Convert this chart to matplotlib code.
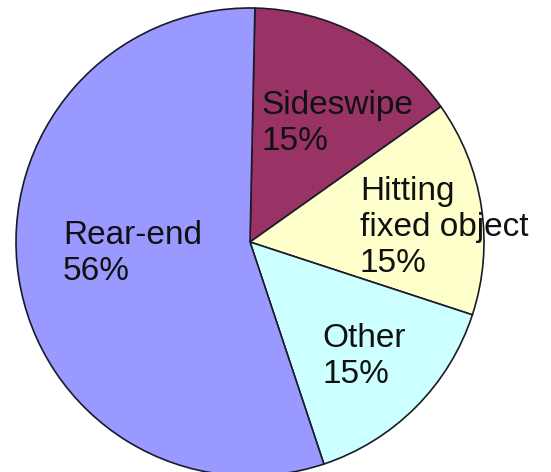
import matplotlib.pyplot as plt

# Types de collision (ordre horaire depuis le haut)
categories = ['Sideswipe', 'Hitting\nfixed object', 'Other', 'Rear-end']
shares = [15, 15, 15, 56]
pct_labels = ['15%', '15%', '15%', '56%']
colors = ['#993366', '#FFFFCC', '#CCFFFF', '#9999FF']

# position du texte (coin gauche, ligne de base de la dernière ligne), en rayons
label_pos = [(0.05, 0.393), (0.47, -0.128), (0.31, -0.603), (-0.80, -0.162)]

fig = plt.figure(figsize=(5.51, 4.72), dpi=100)
ax = fig.add_axes([16 / 551, -4 / 472, 468 / 551, 468 / 472])

wedges, _ = ax.pie(shares, colors=colors, startangle=88.8, counterclock=False,
                   radius=1, wedgeprops=dict(edgecolor='#1a1a2a', linewidth=1.2))
for w in wedges:
    w.set_clip_on(False)

for cat, pct, (x, y) in zip(categories, pct_labels, label_pos):
    ax.text(x, y, cat + '\n' + pct, ha='left', va='baseline',
            fontsize=24, family='Liberation Sans', color='#111111',
            linespacing=1.2)

ax.set_xlim(-1, 1)
ax.set_ylim(-1, 1)
ax.set_aspect('equal')
ax.axis('off')

fig.savefig('out.png', dpi=100)
